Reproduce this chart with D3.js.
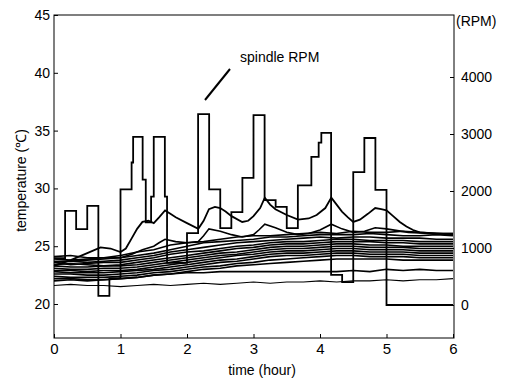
<!DOCTYPE html>
<html>
<head>
<meta charset="utf-8">
<script src="https://cdn.jsdelivr.net/npm/d3@7"></script>
<style>
  html, body { margin: 0; padding: 0; background: #fff; }
  svg { display: block; }
  text { font-family: "Liberation Sans", Arial, sans-serif; fill: #000; }
</style>
</head>
<body>
<svg id="chart" width="511" height="381"></svg>
<script>
// ---- data ----------------------------------------------------------
const tempTicks = [20, 25, 30, 35, 40, 45];
const rpmTicks = [0, 1000, 2000, 3000, 4000];
const hourTicks = [0, 1, 2, 3, 4, 5, 6];

// spindle speed program (step changes, value holds until next time)
const rpmHours = [0, 0.167, 0.333, 0.5, 0.667, 0.833, 1.0, 1.167, 1.19, 1.333, 1.38, 1.46, 1.5, 1.667, 1.70,
                  2.0, 2.167, 2.333, 2.5, 2.667, 2.833, 3.0, 3.167, 3.333, 3.5, 3.667, 3.87, 3.98, 4.02,
                  4.167, 4.333, 4.5, 4.667, 4.833, 5.0, 6.0];
const rpmValues = [820, 1650, 1330, 1740, 160, 470, 2030, 2500, 2950, 2200, 1450, 1900, 2950, 1900, 740,
                   1260, 3350, 2030, 1350, 1630, 2230, 3330, 1840, 1720, 1350, 2100, 2600, 2850, 3020,
                   530, 400, 2330, 2930, 2020, 0, 0];

// spindle housing temperature (follows the speed changes)
const spindleHours = [0, 0.25, 0.5, 0.7, 0.85, 1.0, 1.08, 1.17, 1.25, 1.33, 1.42, 1.5, 1.58, 1.67, 1.75, 1.83,
                      2.0, 2.17, 2.25, 2.33, 2.42, 2.5, 2.58, 2.67, 2.83, 2.92, 3.0, 3.1, 3.17, 3.25, 3.33,
                      3.5, 3.67, 3.83, 3.95, 4.08, 4.17, 4.25, 4.33, 4.42, 4.5, 4.6, 4.72, 4.83, 4.92, 5.0,
                      5.1, 5.2, 5.3, 5.4, 5.5, 5.75, 6.0];
const spindleTemp = [23.3, 23.8, 24.4, 24.9, 24.8, 24.5, 24.8, 25.7, 26.5, 27.1, 27.2, 27.0, 27.5, 28.1, 27.8, 27.5,
                     27.0, 26.5, 27.2, 28.2, 28.4, 28.3, 28.0, 27.6, 27.1, 27.2, 27.6, 28.3, 29.2, 28.6, 28.2,
                     27.7, 27.3, 27.4, 27.7, 28.3, 29.2, 28.6, 28.0, 27.5, 27.1, 27.3, 27.8, 28.3, 28.2, 28.1,
                     27.6, 27.1, 26.7, 26.4, 26.2, 26.1, 26.0];

const bearingHours = [0, 0.5, 1.0, 1.17, 1.33, 1.5, 1.58, 1.67, 1.83, 2.0, 2.17, 2.25, 2.33, 2.5, 2.67, 2.83,
                      3.0, 3.08, 3.17, 3.33, 3.5, 3.67, 3.83, 4.0, 4.17, 4.33, 4.5, 4.67, 4.83, 5.0, 5.33, 5.67, 6.0];
const bearingTemp = [23.6, 23.8, 24.0, 24.3, 24.7, 25.0, 25.3, 25.6, 25.4, 25.3, 25.4, 25.9, 26.5, 26.3, 26.0, 25.8,
                     26.0, 26.4, 26.9, 26.6, 26.2, 26.0, 26.1, 26.4, 26.9, 26.5, 26.2, 26.3, 26.6, 26.5, 26.2, 26.1, 26.1];

// structure thermocouples, sampled every quarter hour
const hours = [0, 0.25, 0.5, 0.75, 1, 1.25, 1.5, 1.75, 2, 2.25, 2.5, 2.75, 3, 3.25, 3.5, 3.75, 4, 4.25, 4.5, 4.75, 5, 5.25, 5.5, 5.75, 6];
const tc01 = [24.1, 24.2, 24.0, 24.0, 24.2, 24.5, 24.7, 25.1, 25.3, 25.4, 25.6, 25.8, 25.9, 25.9, 26.0, 26.1, 26.2, 26.1, 26.3, 26.2, 26.2, 26.3, 26.2, 26.1, 26.1];
const tc02 = [23.9, 23.8, 23.9, 24.0, 24.0, 24.2, 24.4, 24.7, 25.0, 25.3, 25.4, 25.5, 25.6, 25.8, 25.8, 25.9, 26.0, 26.0, 26.0, 26.1, 26.0, 25.9, 25.9, 26.0, 25.9];
const tc03 = [23.7, 23.7, 23.6, 23.7, 23.8, 24.0, 24.2, 24.5, 24.7, 24.9, 25.1, 25.3, 25.4, 25.5, 25.6, 25.7, 25.8, 25.7, 25.8, 25.8, 25.7, 25.7, 25.7, 25.6, 25.6];
const tc04 = [23.6, 23.4, 23.5, 23.6, 23.6, 23.8, 24.0, 24.3, 24.5, 24.6, 24.8, 25.0, 25.1, 25.3, 25.4, 25.4, 25.5, 25.6, 25.6, 25.5, 25.5, 25.5, 25.4, 25.4, 25.4];
const tc05 = [23.4, 23.5, 23.4, 23.3, 23.4, 23.6, 23.8, 24.0, 24.2, 24.4, 24.6, 24.8, 24.9, 25.1, 25.2, 25.2, 25.3, 25.4, 25.4, 25.4, 25.3, 25.3, 25.2, 25.2, 25.2];
const tc06 = [23.3, 23.2, 23.2, 23.3, 23.3, 23.4, 23.6, 23.8, 24.0, 24.2, 24.4, 24.5, 24.7, 24.9, 25.0, 25.0, 25.1, 25.2, 25.2, 25.1, 25.1, 25.0, 25.0, 25.0, 25.0];
const tc07 = [23.1, 23.0, 23.0, 23.1, 23.1, 23.2, 23.4, 23.6, 23.8, 24.0, 24.2, 24.3, 24.5, 24.7, 24.8, 24.8, 24.9, 25.0, 25.0, 24.9, 24.9, 24.9, 24.8, 24.8, 24.8];
const tc08 = [22.9, 22.9, 22.8, 22.9, 22.9, 23.0, 23.2, 23.4, 23.6, 23.8, 24.0, 24.2, 24.3, 24.5, 24.6, 24.6, 24.7, 24.8, 24.8, 24.7, 24.7, 24.7, 24.6, 24.6, 24.6];
const tc09 = [22.8, 22.7, 22.7, 22.7, 22.8, 22.9, 23.0, 23.2, 23.4, 23.6, 23.8, 23.9, 24.1, 24.3, 24.4, 24.4, 24.5, 24.6, 24.6, 24.5, 24.5, 24.5, 24.4, 24.4, 24.4];
const tc10 = [22.6, 22.6, 22.5, 22.5, 22.6, 22.7, 22.9, 23.0, 23.2, 23.4, 23.6, 23.7, 23.9, 24.1, 24.2, 24.2, 24.3, 24.4, 24.4, 24.3, 24.3, 24.3, 24.2, 24.2, 24.2];
const tc11 = [22.4, 22.3, 22.3, 22.3, 22.4, 22.5, 22.7, 22.8, 23.0, 23.2, 23.3, 23.5, 23.6, 23.8, 23.9, 24.0, 24.1, 24.2, 24.2, 24.1, 24.1, 24.1, 24.0, 24.0, 24.0];
const tc12 = [22.2, 22.2, 22.1, 22.1, 22.2, 22.3, 22.5, 22.6, 22.8, 23.0, 23.1, 23.3, 23.4, 23.5, 23.6, 23.7, 23.8, 23.9, 23.9, 23.9, 23.9, 23.8, 23.8, 23.8, 23.8];
const tc13 = [22.0, 22.1, 22.0, 22.1, 22.2, 22.3, 22.5, 22.6, 22.7, 22.7, 22.8, 22.8, 22.8, 22.8, 22.8, 22.8, 22.8, 22.8, 22.9, 22.8, 23.0, 22.9, 23.0, 22.9, 22.9];

// ambient air, sampled every quarter hour
const airTemp = [21.6, 21.7, 21.6, 21.6, 21.5, 21.6, 21.7, 21.6, 21.7, 21.8, 21.7, 21.8, 21.9, 21.8, 21.9, 21.9, 22.0, 21.9, 22.0, 22.0, 22.1, 22.0, 22.1, 22.1, 22.2];

// ---- layout --------------------------------------------------------
const svg = d3.select("#chart");
const padLeft = 54, padRight = 454, padTop = 15, padBottom = 338;

const x = d3.scaleLinear().domain([0, 6]).range([padLeft, padRight - 1]);
const yT = d3.scaleLinear().domain([17.06, 45]).range([padBottom, padTop]);
const yR = d3.scaleLinear().domain([0, 5000]).range([305, 20]);

const tempLine = d3.line().x(d => x(d[0])).y(d => yT(d[1]));
const rpmLine = d3.line().curve(d3.curveStepAfter).x(d => x(d[0])).y(d => yR(d[1]));

const plot = svg.append("g");

// thermocouple bundle
const structure = [tc01, tc02, tc03, tc04, tc05, tc06, tc07, tc08, tc09, tc10, tc11, tc12, tc13];
structure.forEach(s => {
  plot.append("path")
    .attr("d", tempLine(hours.map((h, i) => [h, s[i]])))
    .attr("fill", "none").attr("stroke", "#000").attr("stroke-width", 1.6);
});

plot.append("path")
  .attr("d", tempLine(hours.map((h, i) => [h, airTemp[i]])))
  .attr("fill", "none").attr("stroke", "#000").attr("stroke-width", 1.1);

plot.append("path")
  .attr("d", tempLine(bearingHours.map((h, i) => [h, bearingTemp[i]])))
  .attr("fill", "none").attr("stroke", "#000").attr("stroke-width", 1.6);

plot.append("path")
  .attr("d", tempLine(spindleHours.map((h, i) => [h, spindleTemp[i]])))
  .attr("fill", "none").attr("stroke", "#000").attr("stroke-width", 1.8);

plot.append("path")
  .attr("d", rpmLine(rpmHours.map((h, i) => [h, rpmValues[i]])))
  .attr("fill", "none").attr("stroke", "#000").attr("stroke-width", 1.8);

// ---- axes ----------------------------------------------------------
const fmt = d3.format("d");
const axisLeft = d3.axisLeft(yT).tickValues(tempTicks).tickFormat(fmt).tickSizeInner(-4).tickSizeOuter(0).tickPadding(4);
const axisBottom = d3.axisBottom(x).tickValues(hourTicks).tickFormat(fmt).tickSizeInner(-4).tickSizeOuter(0).tickPadding(5);
const axisRight = d3.axisRight(yR).tickValues(rpmTicks).tickFormat(fmt).tickSizeInner(-4).tickSizeOuter(0).tickPadding(7);

function styleAxis(g, size) {
  g.select(".domain").remove();
  g.selectAll(".tick line").attr("stroke", "#000");
  g.selectAll(".tick text").attr("font-size", size).attr("font-family", "Liberation Sans, Arial, sans-serif").attr("fill", "#000");
}

svg.append("g").attr("transform", `translate(${padLeft},0)`).call(axisLeft).call(g => styleAxis(g, 14));
svg.append("g").attr("transform", `translate(0,${padBottom})`).call(axisBottom).call(g => styleAxis(g, 15));
svg.append("g").attr("transform", `translate(${padRight},0)`).call(axisRight).call(g => styleAxis(g, 14));

svg.append("rect")
  .attr("x", padLeft).attr("y", padTop)
  .attr("width", padRight - padLeft).attr("height", padBottom - padTop)
  .attr("fill", "none").attr("stroke", "#000").attr("stroke-width", 1);

// ---- labels --------------------------------------------------------
svg.append("text")
  .attr("x", 456).attr("y", 21).attr("dy", "0.35em")
  .attr("font-size", 14).text("(RPM)");

svg.append("text")
  .attr("transform", `translate(21,${(padTop + padBottom) / 2 + 4}) rotate(-90)`)
  .attr("text-anchor", "middle").attr("dy", "0.35em")
  .attr("font-size", 14).text("temperature (℃)");

svg.append("text")
  .attr("x", 262).attr("y", 370).attr("dy", "0.35em")
  .attr("text-anchor", "middle")
  .attr("font-size", 14).text("time (hour)");

svg.append("text")
  .attr("x", 240).attr("y", 62)
  .attr("font-size", 14).text("spindle RPM");

svg.append("line")
  .attr("x1", 230).attr("y1", 69).attr("x2", 205).attr("y2", 100)
  .attr("stroke", "#000").attr("stroke-width", 2);
</script>
</body>
</html>
